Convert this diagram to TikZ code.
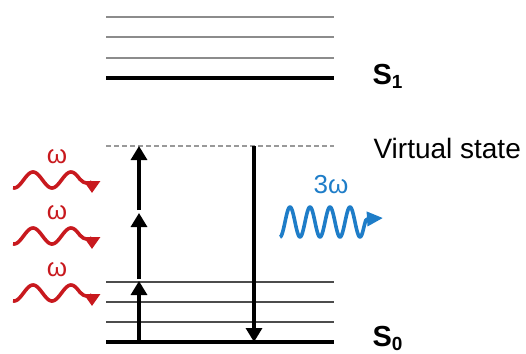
\documentclass[tikz,border=0pt]{standalone}
\usepackage{fontspec}
\setmainfont{Liberation Sans}
\usetikzlibrary{arrows.meta}
\definecolor{wavered}{RGB}{200,25,30}
\definecolor{waveblue}{RGB}{30,125,200}

\begin{document}
\begin{tikzpicture}[x=1pt,y=-1pt,
    level/.style={line width=1.8pt,black!45},
    lowlevel/.style={line width=1.8pt,black!70},
    mainlevel/.style={line width=3.4pt},
    virtual/.style={line width=1.6pt,black!40,dash pattern=on 5pt off 3pt},
    transition/.style={draw,line width=3.2pt,-{Triangle[width=16pt,length=14pt]}},
    wave/.style={line width=3.6pt,line join=round,-{Triangle[width=16pt,length=12pt]}},
    outwave/.style={line width=3.6pt,line join=round,-{Triangle[width=14pt,length=16pt]}}]

  \useasboundingbox (0,0) rectangle (526,353);

  % energy levels
  \foreach \y in {17,37,58} \draw[level] (106,\y) -- (334,\y);
  \foreach \y in {282,302,322} \draw[lowlevel] (106,\y) -- (334,\y);
  \draw[mainlevel] (106,78) -- (334,78);
  \draw[mainlevel] (106,342) -- (334,342);
  \draw[virtual] (106,146) -- (334,146);

  \begin{scope}[every node/.style={anchor=base west,font=\fontsize{28}{30}\selectfont}]
    \node (S1)  at (369,84)  {\fontsize{29}{30}\selectfont\textbf{S}\raisebox{-4pt}{\fontsize{19}{19}\selectfont\textbf{1}}};
    \node (S0)  at (369,346) {\fontsize{29}{30}\selectfont\textbf{S}\raisebox{-4pt}{\fontsize{19}{19}\selectfont\textbf{0}}};
    \node (vs)  at (370,158) {Virtual state};
  \end{scope}

  % absorption and emission
  \coordinate (g0) at (139,342);
  \coordinate (a1) at (139,281);
  \coordinate (b1) at (139,279);
  \coordinate (a2) at (139,213);
  \coordinate (b2) at (139,210);
  \coordinate (a3) at (139,146);
  \coordinate (e0) at (254,146);
  \coordinate (e1) at (254,342);

  \path (g0) edge[transition] (a1);
  \path (b1) edge[transition] (a2);
  \path (b2) edge[transition] (a3);
  \path (e0) edge[transition] (e1);

  % incoming photons
  \foreach \yc [count=\i] in {180,236,293} {
    \draw[wave,wavered] plot[domain=13:80,samples=60,smooth] (\x,{\yc-8*cos(9.4737*(\x-33))})
      .. controls (84,\yc+4.5) and (92,\yc+4) .. (92,\yc+13);
    \node[anchor=base,text=wavered,font=\fontsize{26}{28}\selectfont] (w\i) at (57,\yc-17) {ω};
  }

  % outgoing photon
  \draw[outwave,waveblue] plot[domain=280:364,samples=120,smooth] (\x,{222-15*cos(18*(\x-290))})
    .. controls (366,219) .. (383,218);
  \node[anchor=base,text=waveblue,font=\fontsize{26}{28}\selectfont] (w3w) at (331,193) {3ω};

\end{tikzpicture}
\end{document}
